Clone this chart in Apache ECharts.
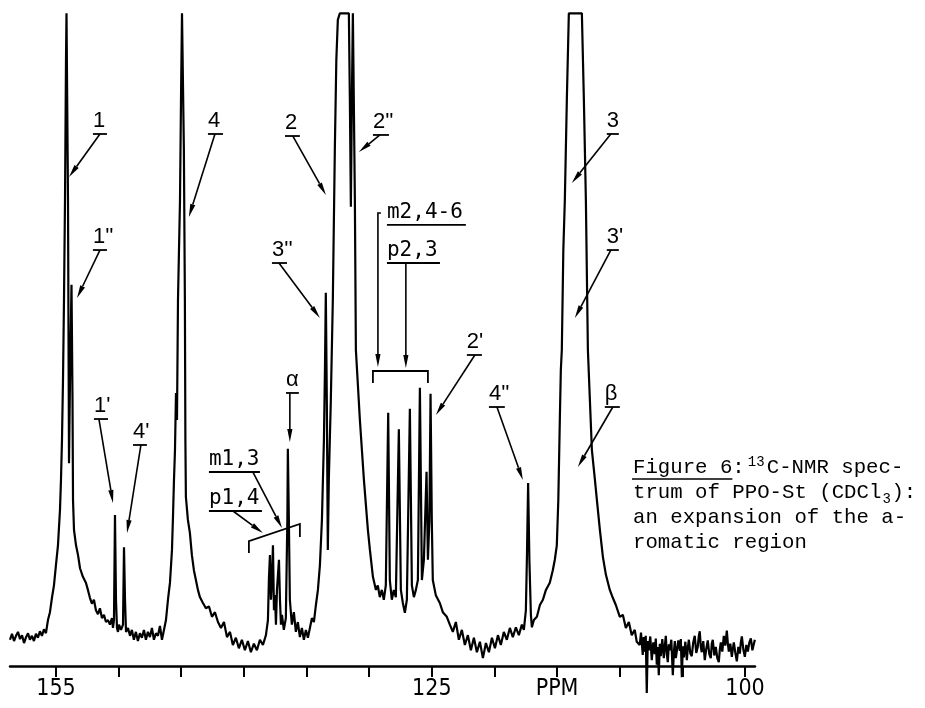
<!DOCTYPE html>
<html>
<head>
<meta charset="utf-8">
<script src="https://cdn.jsdelivr.net/npm/echarts@6/dist/echarts.min.js"></script>
<style>
  html, body { margin: 0; background: #fff; }
  #main { width: 925px; height: 708px; }
</style>
</head>
<body>
<div id="main"></div>
<script>
  // trace of the 13C spectrum, [ppm, intensity] (0 = axis, 100 = pen limit)
  var baseLeft = [
    [158.67, 4.0], [158.51, 4.9], [158.35, 3.8], [158.19, 4.6], [158.03, 5.2], [157.87, 4.1],
    [157.71, 4.7], [157.55, 3.5], [157.39, 4.4], [157.23, 5.0], [157.08, 4.0], [156.92, 4.6],
    [156.76, 3.8], [156.60, 4.9], [156.44, 4.3], [156.28, 5.3], [156.12, 4.6], [155.96, 5.6],
    [155.80, 5.0]
  ]
  var peaks1 = [
    [155.64, 7.0], [155.48, 8.2], [155.32, 10.4], [155.16, 12.3], [155.00, 15.4], [154.84, 18.4],
    [154.68, 23.8], [154.60, 28.4], [154.52, 34.5], [154.44, 43.6], [154.36, 55.8], [154.28, 71.0],
    [154.20, 92.4], [154.16, 99.5], [154.08, 99.5], [154.04, 71.0], [153.96, 30.9], [153.88, 43.6],
    [153.76, 58.1], [153.68, 40.5], [153.64, 25.3], [153.56, 20.7], [153.40, 18.4], [153.24, 16.9],
    [153.08, 14.9], [152.85, 13.6], [152.61, 12.7], [152.45, 11.6], [152.29, 10.4], [152.13, 9.5],
    [151.97, 10.1], [151.81, 8.5], [151.65, 7.9], [151.49, 8.8], [151.33, 7.3], [151.17, 7.8],
    [151.01, 6.7], [150.85, 7.0], [150.69, 6.3], [150.53, 7.3], [150.45, 5.8], [150.37, 7.0],
    [150.29, 23.0], [150.21, 10.1], [150.13, 5.8], [150.05, 5.2], [149.97, 6.3], [149.81, 5.5],
    [149.65, 6.3], [149.57, 18.1], [149.49, 10.1], [149.41, 5.2], [149.25, 5.8], [149.09, 4.6],
    [148.94, 5.5], [148.78, 4.0], [148.62, 5.2], [148.46, 3.8], [148.30, 5.0], [148.14, 4.3],
    [147.98, 5.5], [147.82, 4.0], [147.66, 5.2], [147.50, 4.4], [147.34, 5.8], [147.18, 4.0],
    [147.02, 5.0], [146.86, 4.6], [146.70, 6.1], [146.54, 4.0], [146.38, 5.5]
  ]
  var peak4 = [
    [146.22, 7.0], [146.06, 10.1], [145.90, 12.7], [145.74, 17.7], [145.66, 22.7], [145.58, 28.4],
    [145.50, 32.9], [145.42, 41.6], [145.34, 37.5], [145.26, 55.8], [145.10, 71.0], [145.02, 86.3],
    [144.94, 99.5], [144.87, 99.5], [144.79, 78.7], [144.71, 55.8], [144.67, 34.5], [144.63, 25.8],
    [144.47, 22.3], [144.31, 20.3], [144.15, 16.9], [143.99, 14.6], [143.83, 13.1], [143.67, 11.6],
    [143.51, 10.5], [143.27, 9.6], [143.03, 8.8], [142.79, 9.1], [142.55, 7.5], [142.31, 8.2],
    [142.07, 6.7], [141.83, 5.8], [141.59, 6.7], [141.35, 4.4], [141.11, 5.2], [140.88, 3.2],
    [140.64, 4.3], [140.40, 2.7], [140.16, 4.0], [139.92, 2.4], [139.68, 3.8], [139.44, 2.1],
    [139.20, 3.4], [138.96, 2.4], [138.72, 4.0], [138.48, 3.2], [138.24, 4.7]
  ]
  var clusterMP = [
    [138.08, 7.0], [138.00, 13.4], [137.92, 16.9], [137.84, 10.1], [137.76, 13.1], [137.68, 18.4],
    [137.60, 8.5], [137.52, 10.8], [137.44, 6.3], [137.36, 11.6], [137.28, 13.9], [137.20, 16.2],
    [137.12, 10.1], [137.04, 6.3], [136.96, 7.8], [136.81, 5.5], [136.65, 7.3], [136.53, 22.3],
    [136.49, 33.1], [136.41, 22.3], [136.33, 10.1], [136.17, 6.3], [136.01, 8.2], [135.85, 5.2],
    [135.69, 6.7], [135.53, 4.4], [135.37, 5.8], [135.21, 4.0], [135.05, 5.5], [134.89, 4.3],
    [134.73, 5.8], [134.57, 7.3], [134.41, 6.7], [134.25, 9.3], [134.09, 11.6], [133.93, 15.4]
  ]
  var peak2 = [
    [133.77, 22.3], [133.61, 34.5], [133.53, 45.1], [133.46, 56.9], [133.38, 40.5], [133.30, 17.7],
    [133.22, 28.4], [133.06, 40.5], [132.90, 55.8], [132.74, 78.7], [132.62, 92.4], [132.50, 98.5],
    [132.34, 99.5], [131.62, 99.5], [131.54, 86.3], [131.46, 70.0], [131.38, 86.3], [131.30, 99.5],
    [131.22, 99.5], [131.14, 71.0], [131.06, 48.2], [130.74, 37.5], [130.42, 28.4], [130.10, 20.7],
    [129.94, 17.7], [129.70, 13.6], [129.46, 11.6], [129.31, 12.3], [129.15, 10.5], [128.99, 11.6],
    [128.83, 10.1], [128.67, 12.3]
  ]
  var clusterM2 = [
    [128.48, 38.6], [128.35, 13.1], [128.19, 10.1], [128.03, 11.6], [127.87, 10.5], [127.63, 36.1],
    [127.47, 11.6], [127.31, 9.6], [127.15, 8.1], [126.99, 10.1], [126.75, 39.2], [126.59, 12.3],
    [126.43, 10.5], [126.27, 11.6], [126.11, 13.1], [125.95, 42.4], [125.79, 13.1], [125.63, 16.2],
    [125.42, 29.6], [125.31, 16.2], [125.19, 22.3], [125.10, 41.5], [125.00, 22.3], [124.92, 13.1],
    [124.68, 10.8], [124.36, 9.6], [124.12, 8.2], [123.80, 7.5], [123.56, 6.3], [123.32, 5.2],
    [123.08, 6.7], [122.84, 4.0], [122.60, 5.5], [122.36, 3.2], [122.12, 4.7], [121.88, 2.4],
    [121.64, 4.3], [121.40, 2.1], [121.16, 3.7], [120.92, 1.2], [120.68, 3.5], [120.44, 2.1],
    [120.20, 4.3], [119.96, 2.7], [119.72, 4.7], [119.49, 3.2], [119.25, 5.2], [119.01, 4.0],
    [118.77, 5.8], [118.53, 4.4], [118.29, 5.9], [118.05, 4.7], [117.81, 6.3], [117.65, 5.5]
  ]
  var peak3 = [
    [117.49, 8.5], [117.41, 16.2], [117.31, 27.9], [117.21, 16.2], [117.09, 7.8], [117.01, 5.9],
    [116.85, 7.0], [116.61, 7.5], [116.37, 9.3], [116.13, 10.1], [115.89, 11.6], [115.58, 12.7],
    [115.34, 14.6], [115.18, 16.2], [115.02, 18.4], [114.90, 25.3], [114.78, 37.5], [114.70, 45.1],
    [114.62, 48.2], [114.50, 63.4], [114.38, 71.0], [114.22, 86.3], [114.06, 99.5], [113.02, 99.5],
    [112.86, 86.3], [112.70, 71.0], [112.54, 48.2], [112.38, 40.5], [112.22, 32.9], [111.98, 28.4],
    [111.82, 25.3], [111.58, 20.7], [111.34, 16.6], [111.10, 13.9], [110.79, 11.6], [110.55, 10.4],
    [110.31, 9.3], [109.99, 7.5], [109.75, 7.8], [109.51, 5.8], [109.27, 6.7], [109.04, 4.7],
    [108.80, 5.5], [108.64, 3.7]
  ]
  var baseRight = [
    [108.40, 3.2], [108.30, 5.1], [108.16, 1.7], [108.08, 4.4], [108.00, 2.2], [107.92, 4.6],
    [107.84, -4.1], [107.76, 3.8], [107.68, 2.4], [107.56, 4.5], [107.44, 0.9], [107.32, 3.6],
    [107.20, 1.8], [107.12, 4.2], [107.04, 0.2], [106.96, 2.9], [106.88, -1.4], [106.80, 3.4],
    [106.72, 1.5], [106.60, 4.1], [106.48, 1.2], [106.40, 3.0], [106.32, 4.6], [106.24, 1.8],
    [106.16, 0.6], [106.08, 3.3], [106.00, 2.4], [105.88, 4.0], [105.76, -1.4], [105.68, 2.0],
    [105.60, 3.8], [105.52, 1.2], [105.44, 0.9], [105.32, 3.9], [105.20, 2.3], [105.12, 4.1],
    [105.04, -1.7], [104.96, 3.0], [104.88, 1.3], [104.76, 3.7], [104.64, 0.9], [104.56, 2.8],
    [104.48, 4.0], [104.36, 1.9], [104.25, 1.5], [104.13, 3.6], [104.01, 4.6], [103.89, 2.0],
    [103.77, 2.9], [103.69, 4.5], [103.61, 5.3], [103.53, 3.0], [103.45, 2.1], [103.33, 3.8],
    [103.21, 0.9], [103.09, 2.6], [102.97, 3.9], [102.85, 1.8], [102.73, 1.2], [102.65, 3.4],
    [102.57, 4.0], [102.45, 1.6], [102.33, 2.9], [102.21, 1.2], [102.09, 0.6], [102.01, 2.5],
    [101.93, 3.6], [101.81, 2.2], [101.69, 4.6], [101.57, 3.1], [101.45, 5.4], [101.37, 3.5],
    [101.29, 2.2], [101.17, 3.4], [101.05, 1.4], [100.97, 2.6], [100.89, 3.6], [100.77, 2.0],
    [100.65, 0.7], [100.53, 2.9], [100.41, 1.9], [100.33, 3.6], [100.25, 4.5], [100.13, 2.5],
    [100.01, 1.4], [99.89, 3.2], [99.77, 2.2], [99.65, 3.6], [99.53, 4.2], [99.41, 2.4],
    [99.29, 3.4], [99.21, 4.0]
  ]

  var tickValues = [100, 105, 110, 115, 120, 125, 130, 135, 140, 145, 150, 155]
  var labelValues = [100, 115, 125, 155]
  var labelText = {100: '100', 115: 'PPM', 125: '125', 155: '155'}

  // peak assignments: underline [left, right] at height y, arrow path ending at the peak
  var peakLabels = [
    {text: '1', left: 152.05, right: 150.93, y: 81.10, path: [[151.49, 81.10], [153.96, 74.54]]},
    {text: "1''", left: 152.05, right: 150.93, y: 63.41, path: [[151.49, 63.41], [153.32, 56.10]]},
    {text: '4', left: 142.87, right: 141.67, y: 81.10, path: [[142.31, 81.10], [144.39, 68.45]]},
    {text: '2', left: 136.72, right: 135.53, y: 80.79, path: [[136.09, 80.79], [133.45, 71.80]]},
    {text: "3''", left: 137.76, right: 136.56, y: 61.43, path: [[137.20, 61.43], [133.93, 53.05]]},
    {text: "2''", left: 129.70, right: 128.42, y: 80.95, path: [[129.14, 80.95], [130.82, 78.35]]},
    {text: "2'", left: 122.20, right: 121.00, y: 47.41, path: [[121.56, 47.41], [124.67, 38.26]]},
    {text: 'α', left: 136.64, right: 135.61, y: 41.62, path: [[136.33, 41.62], [136.33, 34.15]]},
    {text: "1'", left: 151.97, right: 150.85, y: 37.65, path: [[151.57, 37.65], [150.45, 24.85]]},
    {text: "4'", left: 148.85, right: 147.74, y: 33.69, path: [[148.22, 33.69], [149.33, 20.27]]},
    {text: "4''", left: 120.44, right: 119.17, y: 39.48, path: [[119.80, 39.48], [117.73, 28.35]]},
    {text: 'β', left: 111.19, right: 109.99, y: 39.48, path: [[110.55, 39.48], [113.34, 30.34]]},
    {text: '3', left: 111.03, right: 110.07, y: 81.10, path: [[110.71, 81.10], [113.82, 73.63]]},
    {text: "3'", left: 111.03, right: 110.07, y: 63.41, path: [[110.71, 63.41], [113.58, 53.05]]}
  ]
  var groupLabels = [
    {text: 'm2,4-6', left: 128.58, right: 122.28, y: 67.23, path: [[129.06, 69.05], [129.30, 69.05], [129.30, 45.58]]},
    {text: 'p2,3', left: 128.58, right: 124.35, y: 61.43, path: [[127.07, 61.43], [127.07, 45.43]]},
    {text: 'm1,3', left: 142.79, right: 138.72, y: 29.57, path: [[139.28, 29.57], [136.96, 21.04]]},
    {text: 'p1,4', left: 142.79, right: 138.56, y: 23.63, path: [[140.87, 23.63], [138.48, 20.27]]}
  ]
  var brackets = [
    [[129.70, 43.14], [129.70, 44.97], [125.31, 44.97], [125.31, 43.14]],
    [[139.60, 17.23], [139.60, 19.05], [135.53, 21.65], [135.53, 19.66]]
  ]

  var spectrum = [].concat(baseLeft, peaks1, peak4, clusterMP, peak2, clusterM2, peak3, baseRight)

  var chart = echarts.init(document.getElementById('main'))
  chart.setOption({
    animation: false,
    grid: {left: 10, right: 170, top: 10, bottom: 42},
    xAxis: {
      type: 'value',
      min: 99.2,
      max: 158.67,
      inverse: true,
      splitLine: {show: false},
      axisLine: {onZero: false, lineStyle: {color: '#000', width: 2.5}},
      axisTick: {customValues: tickValues, length: 11, lineStyle: {color: '#000', width: 2}},
      axisLabel: {
        customValues: labelValues,
        margin: 12,
        color: '#000',
        fontSize: 23,
        fontFamily: '"Liberation Sans Narrow", "DejaVu Sans Condensed", "Liberation Sans", sans-serif',
        formatter: function (v) { return labelText[v] || '' }
      }
    },
    yAxis: {type: 'value', min: 0, max: 100, show: false},
    series: [{
      type: 'line',
      data: spectrum,
      symbol: 'none',
      clip: false,
      silent: true,
      lineStyle: {color: '#000', width: 2.2}
    }]
  })

  var sans = '22px "Liberation Sans", sans-serif'
  var mono = '21px "DejaVu Sans Mono", monospace'
  var serifMono = '20.7px "Liberation Mono", monospace'
  var g = []

  function P (p) { return chart.convertToPixel({gridIndex: 0}, p) }
  function text (s, x, y, font, valign) {
    g.push({
      type: 'text', silent: true,
      style: {text: s, x: x, y: y, font: font, fill: '#000',
        textAlign: 'left', align: 'left', textVerticalAlign: valign, verticalAlign: valign}
    })
  }
  function line (pts, w) {
    g.push({type: 'polyline', silent: true, shape: {points: pts}, style: {stroke: '#000', lineWidth: w || 1.6, fill: null}})
  }
  function arrow (pts) {
    var a = pts[pts.length - 2], b = pts[pts.length - 1]
    var dx = b[0] - a[0], dy = b[1] - a[1]
    var len = Math.sqrt(dx * dx + dy * dy), ux = dx / len, uy = dy / len
    var hl = 13, hw = 2.6
    var bx = b[0] - ux * hl, by = b[1] - uy * hl
    line(pts.slice(0, -1).concat([[bx, by]]), 1.6)
    g.push({
      type: 'polygon', silent: true,
      shape: {points: [b, [bx - uy * hw, by + ux * hw], [bx + uy * hw, by - ux * hw]]},
      style: {fill: '#000'}
    })
  }
  function addLabel (d, font) {
    var l = P([d.left, d.y]), r = P([d.right, d.y])
    line([l, r], 1.8)
    text(d.text, l[0], l[1] - 2, font, 'bottom')
    arrow(d.path.map(P))
  }

  peakLabels.forEach(function (d) { addLabel(d, sans) })
  groupLabels.forEach(function (d) { addLabel(d, mono) })
  brackets.forEach(function (b) { line(b.map(P), 1.8) })

  // caption
  var cx = 633, cw = 12.42
  text('Figure 6:', cx, 468, serifMono, 'middle')
  line([[cx - 1, 479], [cx + 8 * cw, 479]], 1.5)
  text('13', cx + 9 * cw + 3, 462, '14px "Liberation Mono", monospace', 'middle')
  text('C-NMR spec-', cx + 9 * cw + 22, 468, serifMono, 'middle')
  text('trum of PPO-St (CDCl', cx, 493, serifMono, 'middle')
  text('3', cx + 20 * cw + 1, 499, '14px "Liberation Mono", monospace', 'middle')
  text('):', cx + 20 * cw + 10, 493, serifMono, 'middle')
  text('an expansion of the a-', cx, 518, serifMono, 'middle')
  text('romatic region', cx, 543, serifMono, 'middle')

  chart.setOption({graphic: {elements: g}})
</script>
</body>
</html>
